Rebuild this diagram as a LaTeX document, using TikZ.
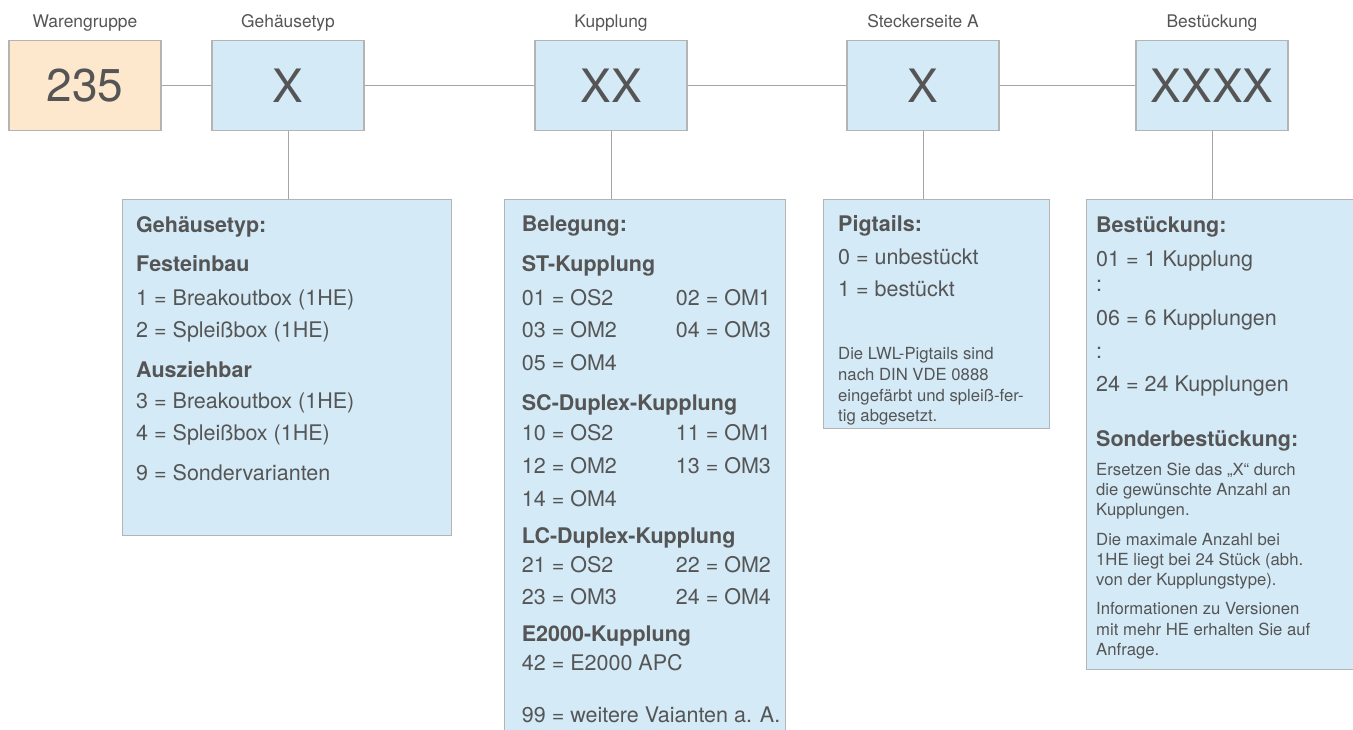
\documentclass[tikz,border=0pt]{standalone}
\usepackage{fontspec}
\setmainfont{TeX Gyre Heros}
\definecolor{txt}{RGB}{85,85,85}
\definecolor{boxblue}{RGB}{212,234,247}
\definecolor{boxorange}{RGB}{253,231,205}
\definecolor{edge}{RGB}{180,180,180}
\definecolor{conn}{RGB}{165,165,165}
\begin{document}
\begin{tikzpicture}[x=1pt,y=-1pt,
  code/.style={draw=edge, line width=1.3pt, fill=boxblue, minimum width=152pt, minimum height=90pt, inner sep=0pt, text=txt, font=\fontsize{46}{46}\selectfont},
  panel/.style={draw=edge, line width=1.3pt, fill=boxblue, inner sep=0pt, anchor=north west},
  hdr/.style={anchor=base west, inner sep=0pt, text=txt, font=\fontsize{21.5}{24}\selectfont\bfseries},
  item/.style={anchor=base west, inner sep=0pt, text=txt, font=\fontsize{21.5}{24}\selectfont},
  note/.style={anchor=base west, inner sep=0pt, text=txt, font=\fontsize{16.7}{20}\selectfont},
  lbl/.style={anchor=base, inner sep=0pt, text=txt, font=\fontsize{17.4}{19}\selectfont},
  link/.style={draw=conn, line width=1pt}]
\clip (0,0) rectangle (1353,729);
\fill[white] (0,0) rectangle (1353,729);

% top code boxes
\node[code, fill=boxorange] (c1) at (85,85.5) {235};
\node[code] (c2) at (288,85.5) {X};
\node[code] (c3) at (611,85.5) {XX};
\node[code] (c4) at (923,85.5) {X};
\node[code] (c5) at (1212,85.5) {XXXX};

\node[lbl] (l1) at (85,27) {Warengruppe};
\node[lbl] (l2) at (288,27) {Gehäusetyp};
\node[lbl] (l3) at (611,27) {Kupplung};
\node[lbl] (l4) at (923,27) {Steckerseite A};
\node[lbl] (l5) at (1212,27) {Bestückung};

% detail panels
\node[panel, minimum width=329pt, minimum height=336pt] (d1) at (122,199) {};
\node[panel, minimum width=281pt, minimum height=545pt] (d2) at (504,199) {};
\node[panel, minimum width=226pt, minimum height=229pt] (d3) at (823,199) {};
\node[panel, minimum width=285pt, minimum height=470pt] (d4) at (1086,199) {};

% connectors
\draw[link] (c1.east) -- (c2.west);
\draw[link] (c2.east) -- (c3.west);
\draw[link] (c3.east) -- (c4.west);
\draw[link] (c4.east) -- (c5.west);
\draw[link] (c2.south) -- (c2.south |- d1.north);
\draw[link] (c3.south) -- (c3.south |- d2.north);
\draw[link] (c4.south) -- (c4.south |- d3.north);
\draw[link] (c5.south) -- (c5.south |- d4.north);

% panel 1
\node[hdr]  (a1) at (136,232.7) {Gehäusetyp:};
\node[hdr]  (a2) at (136,271.7) {Festeinbau};
\node[item] (a3) at (136,305)   {1 = Breakoutbox (1HE)};
\node[item] (a4) at (136,337.7) {2 = Spleißbox (1HE)};
\node[hdr]  (a5) at (136,377.3) {Ausziehbar};
\node[item] (a6) at (136,408.3) {3 = Breakoutbox (1HE)};
\node[item] (a7) at (136,440.7) {4 = Spleißbox (1HE)};
\node[item] (a8) at (136,480)   {9 = Sondervarianten};

% panel 2
\node[hdr]  (b1)  at (521.7,231.7) {Belegung:};
\node[hdr]  (b2)  at (521.7,271.7) {ST-Kupplung};
\node[item] (b3)  at (521.7,305)   {01 = OS2};
\node[item] (b3r) at (675.7,305)   {02 = OM1};
\node[item] (b4)  at (521.7,337.7) {03 = OM2};
\node[item] (b4r) at (675.7,337.7) {04 = OM3};
\node[item] (b5)  at (521.7,370)   {05 = OM4};
\node[hdr]  (b6)  at (521.7,410)   {SC-Duplex-Kupplung};
\node[item] (b7)  at (521.7,440)   {10 = OS2};
\node[item] (b7r) at (675.7,440)   {11 = OM1};
\node[item] (b8)  at (521.7,473.3) {12 = OM2};
\node[item] (b8r) at (675.7,473.3) {13 = OM3};
\node[item] (b9)  at (521.7,506.7) {14 = OM4};
\node[hdr]  (b10) at (521.7,543.3) {LC-Duplex-Kupplung};
\node[item] (b11) at (521.7,572.2) {21 = OS2};
\node[item] (b11r) at (675.7,572.2) {22 = OM2};
\node[item] (b12) at (521.7,604)   {23 = OM3};
\node[item] (b12r) at (675.7,604)  {24 = OM4};
\node[hdr]  (b13) at (521.7,641.7) {E2000-Kupplung};
\node[item] (b14) at (521.7,670.4) {42 = E2000 APC};
\node[item] (b15) at (521.7,722.5) {99 = weitere Vaianten a. A.};

% panel 3
\node[hdr]  (p1) at (838,231.7) {Pigtails:};
\node[item] (p2) at (838,264)   {0 = unbestückt};
\node[item] (p3) at (838,296.7) {1 = bestückt};
\node[note] (p4) at (838,359.5) {Die LWL-Pigtails sind};
\node[note] (p5) at (838,380.3) {nach DIN VDE 0888};
\node[note] (p6) at (838,401)   {eingefärbt und spleiß-fer-};
\node[note] (p7) at (838,421.7) {tig abgesetzt.};

% panel 4
\node[hdr]  (q1)  at (1096,232.7) {Bestückung:};
\node[item] (q2)  at (1096,266.7) {01 = 1 Kupplung};
\node[item] (q3)  at (1096,291.7) {:};
\node[item] (q4)  at (1096,325)   {06 = 6 Kupplungen};
\node[item] (q5)  at (1096,358.3) {:};
\node[item] (q6)  at (1096,391.7) {24 = 24 Kupplungen};
\node[hdr]  (q7)  at (1096,446)   {Sonderbestückung:};
\node[note] (q8)  at (1096,475.7) {Ersetzen Sie das „X“ durch};
\node[note] (q9)  at (1096,495.7) {die gewünschte Anzahl an};
\node[note] (q10) at (1096,515.7) {Kupplungen.};
\node[note] (q11) at (1096,545.7) {Die maximale Anzahl bei};
\node[note] (q12) at (1096,565.7) {1HE liegt bei 24 Stück (abh.};
\node[note] (q13) at (1096,585.7) {von der Kupplungstype).};
\node[note] (q14) at (1096,614.5) {Informationen zu Versionen};
\node[note] (q15) at (1096,635)   {mit mehr HE erhalten Sie auf};
\node[note] (q16) at (1096,655.5) {Anfrage.};
\end{tikzpicture}
\end{document}
